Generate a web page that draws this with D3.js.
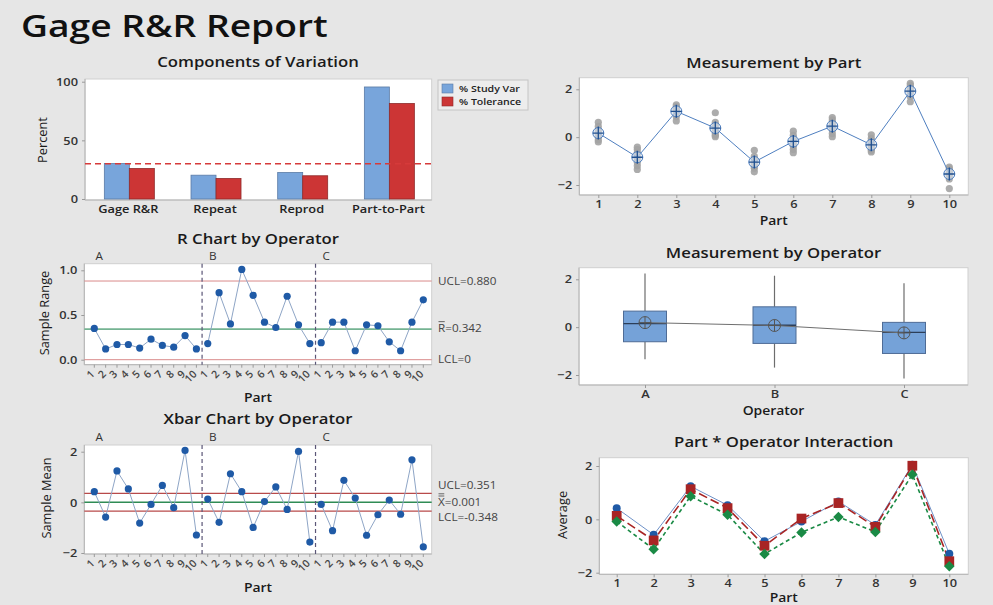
<!DOCTYPE html>
<html>
<head>
<meta charset="utf-8">
<script src="https://cdn.jsdelivr.net/npm/d3@7"></script>
<style>
  body { margin: 0; background: #e6e6e6; }
  svg { display: block; font-family: "Open Sans", "Noto Sans", sans-serif; }
</style>
</head>
<body>
<svg id="chart" width="993" height="605"></svg>
<script>
// ---------------- DATA ----------------
const components = ["Gage R&R", "Repeat", "Reprod", "Part-to-Part"];
const studyVar   = [30.2, 20.3, 22.6, 95.5];
const tolerance  = [26.0, 17.5, 19.8, 81.4];
const tolRefLine = 30;
const percentTicks = [0, 50, 100];

const parts = ["1","2","3","4","5","6","7","8","9","10"];
const operators = ["A","B","C"];

const rangeA = [0.35, 0.12, 0.17, 0.17, 0.13, 0.23, 0.16, 0.14, 0.27, 0.12];
const rangeB = [0.18, 0.75, 0.40, 1.01, 0.72, 0.42, 0.36, 0.71, 0.39, 0.18];
const rangeC = [0.19, 0.42, 0.42, 0.10, 0.39, 0.38, 0.20, 0.10, 0.42, 0.67];
const rTicks = [0.0, 0.5, 1.0];
const rUCL = 0.880, rBar = 0.342, rLCL = 0;

const xbarA = [0.42, -0.58, 1.24, 0.53, -0.82, -0.08, 0.67, -0.21, 2.05, -1.29];
const xbarB = [0.13, -0.79, 1.13, 0.42, -0.99, 0.03, 0.61, -0.28, 2.01, -1.57];
const xbarC = [-0.08, -1.12, 0.87, 0.17, -1.30, -0.49, 0.09, -0.47, 1.68, -1.76];
const meanTicks = [-2, 0, 2];
const xUCL = 0.351, xBarBar = 0.001, xLCL = -0.348;

const partMeasurements = [
  [0.62, 0.45, 0.30, 0.22, 0.15, 0.05, 0.00, -0.12, -0.20],
  [-0.42, -0.52, -0.65, -0.75, -0.88, -0.90, -1.05, -1.20, -1.35],
  [1.35, 1.28, 1.20, 1.15, 1.10, 1.05, 0.95, 0.85, 0.68],
  [1.02, 0.62, 0.50, 0.40, 0.32, 0.25, 0.15, 0.08, 0.02],
  [-0.55, -0.80, -0.92, -1.00, -1.08, -1.15, -1.22, -1.30, -1.45],
  [0.25, 0.08, -0.05, -0.12, -0.20, -0.30, -0.38, -0.52, -0.65],
  [0.82, 0.72, 0.62, 0.55, 0.48, 0.40, 0.30, 0.15, 0.02],
  [0.10, -0.05, -0.15, -0.25, -0.32, -0.40, -0.48, -0.55, -0.62],
  [2.25, 2.18, 2.10, 2.02, 1.95, 1.88, 1.80, 1.70, 1.48],
  [-1.25, -1.32, -1.40, -1.48, -1.52, -1.58, -1.65, -1.75, -2.15]
];
const partMeans = [0.17, -0.84, 1.08, 0.38, -1.04, -0.18, 0.46, -0.32, 1.92, -1.54];

const opWhiskerLow  = [-1.34, -1.69, -2.15];
const opQ1          = [-0.61, -0.68, -1.10];
const opMedian      = [0.15, 0.08, -0.22];
const opQ3          = [0.67, 0.85, 0.20];
const opWhiskerHigh = [2.24, 2.15, 1.83];
const opMeans       = [0.19, 0.07, -0.24];

// ---------------- HELPERS ----------------
const svg = d3.select("#chart");
const FONT = '"Open Sans", "Noto Sans", sans-serif';
const SX = 1.115; // horizontal glyph stretch of the reference rendering

function plotFrame(p) {
  svg.append("rect").attr("x", p.l).attr("y", p.t)
    .attr("width", p.r - p.l).attr("height", p.b - p.t)
    .attr("fill", "#ffffff").attr("stroke", "#cfcfcf").attr("stroke-width", 1);
  svg.append("path").attr("d", `M${p.l},${p.t}V${p.b}H${p.r}`)
    .attr("fill", "none").attr("stroke", "#b4b4b4").attr("stroke-width", 1);
}
function panelTitle(text, x, y) {
  svg.append("text").attr("x", x).attr("y", y).attr("text-anchor", "middle")
    .attr("font-size", 15).attr("font-weight", 600).attr("fill", "#1a1a1a").text(text);
}
function axisTitle(text, x, y, rotate, bold) {
  const t = svg.append("text").attr("text-anchor", "middle")
    .attr("font-size", bold ? 12.5 : (rotate ? 12.8 : 12)).attr("font-weight", bold ? 600 : 400)
    .attr("fill", "#1a1a1a").text(text);
  if (rotate) t.attr("transform", `translate(${x},${y}) rotate(-90)`);
  else t.attr("x", x).attr("y", y);
}
function yAxis(p, y, ticks, fmt) {
  const g = svg.append("g").attr("transform", `translate(${p.l},0)`)
    .call(d3.axisLeft(y).tickValues(ticks).tickSize(3).tickPadding(4).tickFormat(fmt));
  g.select(".domain").remove();
  g.selectAll("line").attr("stroke", "#9a9a9a");
  g.selectAll("text").attr("font-family", FONT).attr("font-size", 11.5)
    .attr("font-weight", 600).attr("fill", "#333");
}
function xAxisPoint(p, x, labels) {
  const g = svg.append("g").attr("transform", `translate(0,${p.b})`)
    .call(d3.axisBottom(x).tickSize(3).tickPadding(2).tickFormat((d, i) => labels[i]));
  g.select(".domain").remove();
  g.selectAll("line").attr("stroke", "#9a9a9a");
  g.selectAll("text").attr("font-family", FONT).attr("font-size", 11.5)
    .attr("font-weight", 600).attr("fill", "#333");
  return g;
}
function barLabel(x, y, prefix, nbars, rest) {
  const t1 = svg.append("text").attr("x", x).attr("y", y).attr("dy", "0.35em")
    .attr("font-size", 10.5).attr("fill", "#444").text(prefix);
  const w = t1.node().getComputedTextLength() * SX;
  for (let k = 0; k < nbars; k++) {
    svg.append("line").attr("x1", x + 0.5).attr("x2", x + w - 0.5)
      .attr("y1", y - 6.5 - k * 2.2).attr("y2", y - 6.5 - k * 2.2)
      .attr("stroke", "#444").attr("stroke-width", 0.8);
  }
  svg.append("text").attr("x", x + w).attr("y", y).attr("dy", "0.35em")
    .attr("font-size", 10.5).attr("fill", "#444").text(rest);
}

// ---------------- MAIN TITLE ----------------
svg.append("text").attr("x", 21).attr("y", 37).attr("font-size", 31)
  .attr("font-weight", 600).attr("fill", "#111").attr("data-sx", 1.2).text("Gage R&R Report");

// ---------------- COMPONENTS OF VARIATION ----------------
{
  const p = { l: 85, r: 431.7, t: 79, b: 200 };
  plotFrame(p);
  const x = d3.scaleBand().domain(components).range([p.l, p.r]);
  const y = d3.scaleLinear().domain([0, 100]).range([199, 81.7]);
  const bw = 25;
  const g = svg.append("g");
  components.forEach((c, i) => {
    const cx = x(c) + x.bandwidth() / 2 + 1;
    g.append("rect").attr("x", cx - bw).attr("y", y(studyVar[i]))
      .attr("width", bw).attr("height", y(0) - y(studyVar[i]))
      .attr("fill", "#78a5db").attr("stroke", "#5a7ba6").attr("stroke-width", 0.8);
    g.append("rect").attr("x", cx).attr("y", y(tolerance[i]))
      .attr("width", bw).attr("height", y(0) - y(tolerance[i]))
      .attr("fill", "#cc3535").attr("stroke", "#8e2a2a").attr("stroke-width", 0.8);
  });
  svg.append("line").attr("x1", p.l).attr("x2", p.r)
    .attr("y1", y(tolRefLine)).attr("y2", y(tolRefLine))
    .attr("stroke", "#d63a3a").attr("stroke-width", 1.5).attr("stroke-dasharray", "6,4");
  yAxis(p, y, percentTicks, d3.format("d"));
  const gx = svg.append("g").attr("transform", `translate(0,${p.b})`)
    .call(d3.axisBottom(x).tickSize(0).tickPadding(5));
  gx.select(".domain").remove();
  gx.selectAll("text").attr("font-family", FONT).attr("font-size", 11.5)
    .attr("font-weight", 600).attr("fill", "#222");
  panelTitle("Components of Variation", 258, 67);
  axisTitle("Percent", 47, 140, true, false);

  // legend
  svg.append("rect").attr("x", 438).attr("y", 80).attr("width", 90).attr("height", 30)
    .attr("fill", "#ededed").attr("stroke", "#c4c4c4");
  const legItems = [["% Study Var", "#78a5db", "#5a7ba6"], ["% Tolerance", "#cc3535", "#8e2a2a"]];
  legItems.forEach((d, i) => {
    svg.append("rect").attr("x", 442).attr("y", 84 + i * 13).attr("width", 11).attr("height", 9)
      .attr("fill", d[1]).attr("stroke", d[2]).attr("stroke-width", 0.6);
    svg.append("text").attr("x", 459).attr("y", 88.5 + i * 13).attr("dy", "0.35em")
      .attr("font-size", 9.5).attr("font-weight", 600).attr("fill", "#222").text(d[0]);
  });
}

// ---------------- shared operator x-scale for control charts ----------------
const idx30 = d3.range(30);
const tickLabels30 = idx30.map(i => parts[i % 10]);
const xCC = d3.scalePoint().domain(idx30).range([94.3, 423.3]);
const dividers = [9.5, 19.5];
const segStart = [0, 10, 20];

function controlChart(p, y, values, lines, ticks, tfmt, lineColor, ptColor) {
  plotFrame(p);
  lines.forEach(L => {
    svg.append("line").attr("x1", p.l).attr("x2", p.r).attr("y1", y(L.v)).attr("y2", y(L.v))
      .attr("stroke", L.c).attr("stroke-width", L.w);
  });
  const step = xCC.step();
  dividers.forEach(d => {
    const xx = xCC(Math.floor(d)) + step / 2;
    svg.append("line").attr("x1", xx).attr("x2", xx).attr("y1", p.t).attr("y2", p.b)
      .attr("stroke", "#5b5677").attr("stroke-width", 1.2).attr("stroke-dasharray", "4,3");
  });
  operators.forEach((op, k) => {
    const seg = values.slice(k * 10, k * 10 + 10).map((v, i) => [k * 10 + i, v]);
    svg.append("path").datum(seg)
      .attr("d", d3.line().x(d => xCC(d[0])).y(d => y(d[1])))
      .attr("fill", "none").attr("stroke", lineColor).attr("stroke-width", 1);
    svg.append("g").selectAll("circle").data(seg).join("circle")
      .attr("cx", d => xCC(d[0])).attr("cy", d => y(d[1])).attr("r", 3.6).attr("fill", ptColor);
    svg.append("text").attr("x", xCC(segStart[k]) + 5).attr("y", p.t - 4)
      .attr("text-anchor", "middle").attr("font-size", 10.5).attr("fill", "#333").text(op);
  });
  yAxis(p, y, ticks, tfmt);
  const g = svg.append("g");
  idx30.forEach(i => {
    g.append("line").attr("x1", xCC(i)).attr("x2", xCC(i)).attr("y1", p.b).attr("y2", p.b + 3)
      .attr("stroke", "#9a9a9a");
    g.append("text").attr("transform", `translate(${xCC(i) + 1},${p.b + 10}) rotate(-45)`)
      .attr("text-anchor", "end").attr("font-size", 10.5).attr("font-weight", 600)
      .attr("fill", "#444").text(tickLabels30[i]);
  });
}

// ---------------- R CHART ----------------
{
  const p = { l: 84.3, r: 431.7, t: 263.7, b: 364.7 };
  const y = d3.scaleLinear().domain([0, 1]).range([359.7, 270.3]);
  controlChart(p, y, rangeA.concat(rangeB, rangeC),
    [{ v: rUCL, c: "#d98a8a", w: 1 }, { v: rLCL, c: "#d98a8a", w: 1 }, { v: rBar, c: "#74b392", w: 1.6 }],
    rTicks, d3.format(".1f"), "#8ea5c6", "#1f5aa6");
  panelTitle("R Chart by Operator", 258, 244);
  axisTitle("Sample Range", 49, 313, true, false);
  axisTitle("Part", 258, 402, false, true);
  svg.append("text").attr("x", 438).attr("y", y(rUCL)).attr("dy", "0.35em")
    .attr("font-size", 10.5).attr("fill", "#444").text("UCL=" + rUCL.toFixed(3));
  barLabel(438, y(rBar) - 1, "R", 1, "=" + rBar.toFixed(3));
  svg.append("text").attr("x", 438).attr("y", y(rLCL)).attr("dy", "0.35em")
    .attr("font-size", 10.5).attr("fill", "#444").text("LCL=" + rLCL);
}

// ---------------- XBAR CHART ----------------
{
  const p = { l: 84.3, r: 431.7, t: 445, b: 554 };
  const y = d3.scaleLinear().domain([-2, 2]).range([553, 451.7]);
  controlChart(p, y, xbarA.concat(xbarB, xbarC),
    [{ v: xUCL, c: "#b84a4a", w: 1.2 }, { v: xLCL, c: "#b84a4a", w: 1.2 }, { v: xBarBar, c: "#2f8c55", w: 1.5 }],
    meanTicks, d3.format("d"), "#8ea5c6", "#1f5aa6");
  panelTitle("Xbar Chart by Operator", 258, 424);
  axisTitle("Sample Mean", 51, 498, true, false);
  axisTitle("Part", 258, 592, false, true);
  svg.append("text").attr("x", 438).attr("y", 485).attr("dy", "0.35em")
    .attr("font-size", 10.5).attr("fill", "#444").text("UCL=" + xUCL.toFixed(3));
  barLabel(438, 502.5, "X", 2, "=" + xBarBar.toFixed(3));
  svg.append("text").attr("x", 438).attr("y", 517).attr("dy", "0.35em")
    .attr("font-size", 10.5).attr("fill", "#444").text("LCL=" + xLCL.toFixed(3));
}

// ---------------- MEASUREMENT BY PART ----------------
{
  const p = { l: 579.3, r: 968.3, t: 77.7, b: 195 };
  plotFrame(p);
  const x = d3.scalePoint().domain(parts).range([598.3, 949.3]);
  const y = d3.scaleLinear().domain([-2, 2]).range([185, 89.3]);
  const pts = [];
  partMeasurements.forEach((arr, i) => arr.forEach(v => pts.push([parts[i], v])));
  svg.append("g").selectAll("circle").data(pts).join("circle")
    .attr("cx", d => x(d[0])).attr("cy", d => y(d[1])).attr("r", 3.6)
    .attr("fill", "#a3a3a3").attr("fill-opacity", 0.9);
  const mean = parts.map((pp, i) => [pp, partMeans[i]]);
  svg.append("path").datum(mean).attr("d", d3.line().x(d => x(d[0])).y(d => y(d[1])))
    .attr("fill", "none").attr("stroke", "#4f7fc0").attr("stroke-width", 1);
  const mg = svg.append("g").selectAll("g").data(mean).join("g")
    .attr("transform", d => `translate(${x(d[0])},${y(d[1])})`);
  mg.append("circle").attr("r", 5.5).attr("fill", "#dbe6f4").attr("fill-opacity", 0.6)
    .attr("stroke", "#4f7fc0").attr("stroke-width", 1);
  mg.append("path").attr("d", "M-5.5,0H5.5M0,-6.5V6.5").attr("stroke", "#1f4f8f").attr("stroke-width", 1.3);
  yAxis(p, y, meanTicks, d3.format("d"));
  xAxisPoint(p, x, parts);
  panelTitle("Measurement by Part", 773.8, 68);
  axisTitle("Part", 773.8, 225, false, true);
}

// ---------------- MEASUREMENT BY OPERATOR ----------------
{
  const p = { l: 579, r: 968, t: 267.7, b: 385 };
  plotFrame(p);
  const x = d3.scalePoint().domain(operators).range([645, 904]);
  const y = d3.scaleLinear().domain([-2, 2]).range([375, 279.3]);
  const bw = 43;
  operators.forEach((op, i) => {
    const cx = x(op);
    svg.append("line").attr("x1", cx).attr("x2", cx).attr("y1", y(opWhiskerHigh[i])).attr("y2", y(opQ3[i]))
      .attr("stroke", "#6d6d6d").attr("stroke-width", 1.2);
    svg.append("line").attr("x1", cx).attr("x2", cx).attr("y1", y(opQ1[i])).attr("y2", y(opWhiskerLow[i]))
      .attr("stroke", "#6d6d6d").attr("stroke-width", 1.2);
    svg.append("rect").attr("x", cx - bw / 2).attr("y", y(opQ3[i]))
      .attr("width", bw).attr("height", y(opQ1[i]) - y(opQ3[i]))
      .attr("fill", "#75a2d8").attr("stroke", "#4f6c96").attr("stroke-width", 1);
    svg.append("line").attr("x1", cx - bw / 2).attr("x2", cx + bw / 2)
      .attr("y1", y(opMedian[i])).attr("y2", y(opMedian[i]))
      .attr("stroke", "#2c3e58").attr("stroke-width", 1.3);
  });
  const mean = operators.map((o, i) => [o, opMeans[i]]);
  svg.append("path").datum(mean).attr("d", d3.line().x(d => x(d[0])).y(d => y(d[1])))
    .attr("fill", "none").attr("stroke", "#6f6f6f").attr("stroke-width", 1);
  const mg = svg.append("g").selectAll("g").data(mean).join("g")
    .attr("transform", d => `translate(${x(d[0])},${y(d[1])})`);
  mg.append("circle").attr("r", 6).attr("fill", "none").attr("stroke", "#555").attr("stroke-width", 1);
  mg.append("path").attr("d", "M-6,0H6M0,-6V6").attr("stroke", "#555").attr("stroke-width", 1);
  yAxis(p, y, meanTicks, d3.format("d"));
  xAxisPoint(p, x, operators);
  panelTitle("Measurement by Operator", 773.5, 258);
  axisTitle("Operator", 773.5, 415, false, true);
}

// ---------------- PART * OPERATOR INTERACTION ----------------
{
  const p = { l: 599.3, r: 968.3, t: 457.7, b: 574.3 };
  plotFrame(p);
  const x = d3.scalePoint().domain(parts).range([616.7, 949.3]);
  const y = d3.scaleLinear().domain([-2, 2]).range([572.7, 466]);
  const series = [
    { vals: xbarA, color: "#1f5aa6", line: "#6f92c8", dash: null, w: 1, sym: d3.symbolCircle, size: 50, rot: 0 },
    { vals: xbarB, color: "#a82424", line: "#a82424", dash: "9,4", w: 1.6, sym: d3.symbolSquare, size: 95, rot: 0 },
    { vals: xbarC, color: "#1a8a45", line: "#1a8a45", dash: "4,3", w: 1.6, sym: d3.symbolSquare, size: 55, rot: 45 }
  ];
  series.forEach(s => {
    const data = parts.map((pp, i) => [pp, s.vals[i]]);
    const path = svg.append("path").datum(data).attr("d", d3.line().x(d => x(d[0])).y(d => y(d[1])))
      .attr("fill", "none").attr("stroke", s.line).attr("stroke-width", s.w);
    if (s.dash) path.attr("stroke-dasharray", s.dash);
  });
  series.forEach(s => {
    const data = parts.map((pp, i) => [pp, s.vals[i]]);
    svg.append("g").selectAll("path").data(data).join("path")
      .attr("transform", d => `translate(${x(d[0])},${y(d[1])}) rotate(${s.rot})`)
      .attr("d", d3.symbol().type(s.sym).size(s.size)).attr("fill", s.color);
  });
  yAxis(p, y, meanTicks, d3.format("d"));
  xAxisPoint(p, x, parts);
  panelTitle("Part * Operator Interaction", 783.8, 447);
  axisTitle("Part", 783.8, 602, false, true);
  axisTitle("Average", 567, 515, true, false);
}

// ---------------- horizontal glyph stretch (matches reference proportions) ----------------
svg.selectAll("text").each(function () {
  const el = d3.select(this);
  const tr = el.attr("transform") || "";
  if (tr.includes("rotate")) return;
  const sx = +(el.attr("data-sx") || SX);
  const x = +el.attr("x") || 0, y = +el.attr("y") || 0;
  el.attr("transform", `translate(${x},${y}) scale(${sx},1) translate(${-x},${-y}) ${tr}`);
});
</script>
</body>
</html>
